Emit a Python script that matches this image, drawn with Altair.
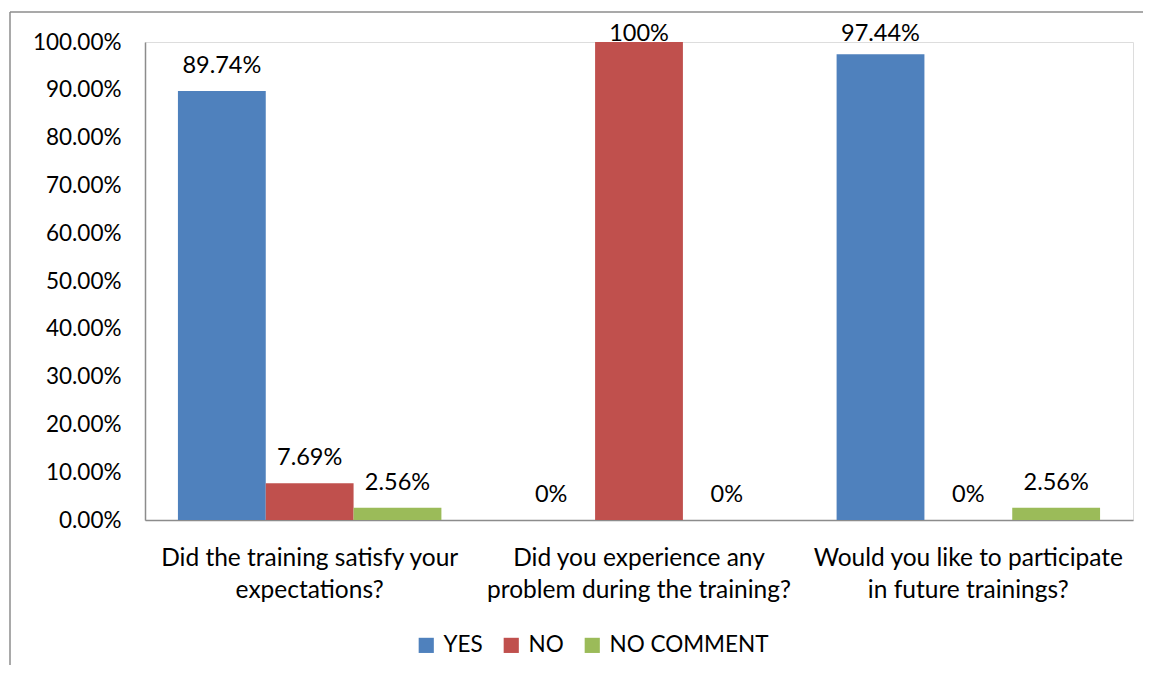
import altair as alt
import pandas as pd

questions = [
    "Did the training satisfy your expectations?",
    "Did you experience any problem during the training?",
    "Would you like to participate in future trainings?",
]
question_lines = [
    ["Did the training satisfy your", "expectations?"],
    ["Did you experience any", "problem during the training?"],
    ["Would you like to participate", "in future trainings?"],
]
answers = ["YES", "NO", "NO COMMENT"]
yes_values = [89.74, 0.0, 97.44]
no_values = [7.69, 100.0, 0.0]
nocomment_values = [2.56, 0.0, 2.56]
yes_labels = ["89.74%", "0%", "97.44%"]
no_labels = ["7.69%", "100%", "0%"]
nocomment_labels = ["2.56%", "0%", "2.56%"]
y_ticks = [0, 10, 20, 30, 40, 50, 60, 70, 80, 90, 100]
colors = ["#4F81BD", "#C0504D", "#9BBB59"]

rows = []
for i, q in enumerate(questions):
    for a, vals, labs in zip(answers,
                             [yes_values, no_values, nocomment_values],
                             [yes_labels, no_labels, nocomment_labels]):
        rows.append({"question": q, "answer": a, "value": vals[i], "label": labs[i]})
df = pd.DataFrame(rows)

FONT = "Lato"
FS = 22.5

label_expr = ""
for q, lines in zip(questions, question_lines):
    label_expr += f"datum.label == '{q}' ? {lines!r} : "
label_expr += "datum.label"

x_enc = alt.X("question:N", sort=questions, title=None,
              scale=alt.Scale(paddingInner=0.2, paddingOuter=0.1),
              axis=alt.Axis(labelExpr=label_expr, labelAngle=0, labelFontSize=24.5,
                            labelFont=FONT, labelColor="#000000", labelPadding=26,
                            labelLineHeight=32, labelLimit=0, ticks=False,
                            domainColor="#8c8c8c", domainWidth=1.5))
y_enc = alt.Y("value:Q", title=None,
              scale=alt.Scale(domain=[0, 100], nice=False),
              axis=alt.Axis(values=y_ticks, labelExpr="format(datum.value/100, '.2%')",
                            labelFontSize=FS, labelFont=FONT, labelColor="#000000",
                            labelPadding=24, ticks=False, grid=False,
                            domainColor="#8c8c8c", domainWidth=1.5))

base = alt.Chart(df).encode(
    x=x_enc,
    xOffset=alt.XOffset("answer:N", sort=answers, scale=alt.Scale(paddingInner=0, paddingOuter=0)),
)

bars = base.mark_bar().encode(
    y=y_enc,
    color=alt.Color("answer:N", sort=answers,
                    scale=alt.Scale(domain=answers, range=colors),
                    legend=alt.Legend(title=None, orient="none", direction="horizontal",
                                      legendX=270, legendY=592, symbolType="square",
                                      symbolSize=230, symbolStrokeWidth=0,
                                      labelFontSize=FS, labelFont=FONT,
                                      labelColor="#000000", columnPadding=17,
                                      symbolOffset=0, labelOffset=6, labelLimit=0)),
)

texts = base.transform_calculate(
    label_y="min(datum.value, 96.5)"
).mark_text(baseline="bottom", dy=-13, fontSize=23.5, font=FONT, color="#000000").encode(
    y=alt.Y("label_y:Q"),
    text="label:N",
)

frame_top = alt.Chart(pd.DataFrame({"k": [0]})).mark_rule(color="#8c8c8c", strokeWidth=1.5).encode(
    x=alt.value(-135), x2=alt.value(1010), y=alt.value(-30)
)
frame_left = alt.Chart(pd.DataFrame({"k": [0]})).mark_rule(color="#8c8c8c", strokeWidth=1.5).encode(
    x=alt.value(-135), y=alt.value(-30), y2=alt.value(700)
)

chart = alt.layer(bars, texts, frame_top, frame_left).properties(
    width=988, height=478,
    autosize=alt.AutoSizeParams(type="none"),
    padding={"left": 137, "top": 34, "right": 10, "bottom": 145},
).configure_view(stroke=None).configure(background="#ffffff")

chart.save("out.html", embed_options={"renderer": "svg", "actions": False})
